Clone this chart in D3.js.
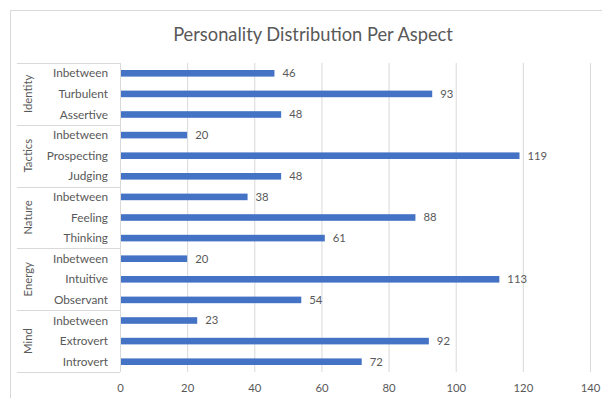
<!DOCTYPE html>
<html><head><meta charset="utf-8">
<script src="https://cdn.jsdelivr.net/npm/d3@7"></script>
<style>
html,body{margin:0;padding:0;background:#fff;}
svg{display:block;font-family:Lato,"Open Sans",sans-serif;}
</style></head>
<body><svg id="c" width="602" height="398"></svg>
<script>
// Data (top-to-bottom order as displayed)
const title = "Personality Distribution Per Aspect";
const groups = ["Identity","Tactics","Nature","Energy","Mind"];
const categories = [
  ["Identity","Inbetween"],["Identity","Turbulent"],["Identity","Assertive"],
  ["Tactics","Inbetween"],["Tactics","Prospecting"],["Tactics","Judging"],
  ["Nature","Inbetween"],["Nature","Feeling"],["Nature","Thinking"],
  ["Energy","Inbetween"],["Energy","Intuitive"],["Energy","Observant"],
  ["Mind","Inbetween"],["Mind","Extrovert"],["Mind","Introvert"]
];
const values = [46,93,48, 20,119,48, 38,88,61, 20,113,54, 23,92,72];
const xTicks = [0,20,40,60,80,100,120,140];

(function(){
const svg = d3.select("#c");
const W = 602, H = 398;
const pL = 120, pR = 590, pT = 63, pB = 372;
const txt = "#595959", grid = "#d9d9d9";

// outer chart border
svg.append("rect").attr("x",10.5).attr("y",10.5).attr("width",W).attr("height",H)
  .attr("fill","none").attr("stroke",grid);

// title
svg.append("text").attr("x",313).attr("y",41).attr("text-anchor","middle")
  .attr("fill",txt).attr("font-size",18.3).text(title);

const x = d3.scaleLinear().domain([0,140]).range([pL,pR]);
const keys = categories.map((d,i)=>i);
const y = d3.scaleBand().domain(keys).range([pT,pB]).paddingInner(0.68).paddingOuter(0.34);
const step = (pB-pT)/categories.length;

// x axis + gridlines
const xa = svg.append("g").attr("transform",`translate(0,${pB})`)
  .call(d3.axisBottom(x).tickValues(xTicks).tickSizeInner(-(pB-pT)).tickSizeOuter(0).tickPadding(12));
xa.select(".domain").remove();
xa.selectAll(".tick line").attr("stroke",grid).attr("stroke-width",1);
xa.selectAll(".tick text").attr("fill",txt).attr("font-size",11.3).attr("font-family","Lato");
xa.selectAll(".tick").filter(d=>d===0).select("line").remove();

// bars
svg.append("g").selectAll("rect").data(values).join("rect")
  .attr("x",x(0)+0.5).attr("y",(d,i)=>y(i))
  .attr("width",d=>x(d)-x(0)-0.5).attr("height",y.bandwidth())
  .attr("fill","#4472C4");

// value labels
svg.append("g").selectAll("text").data(values).join("text")
  .attr("x",d=>x(d)+8).attr("y",(d,i)=>y(i)+y.bandwidth()/2).attr("dy","0.35em")
  .attr("fill",txt).attr("font-size",11.3).text(d=>d);

// category axis line
svg.append("line").attr("x1",pL+0.5).attr("x2",pL+0.5).attr("y1",pT).attr("y2",pB)
  .attr("stroke",grid);

// category labels
svg.append("g").selectAll("text").data(categories).join("text")
  .attr("x",108).attr("y",(d,i)=>y(i)+y.bandwidth()/2).attr("dy","0.35em")
  .attr("text-anchor","end").attr("fill",txt).attr("font-size",11.8).text(d=>d[1]);

// group boundaries and labels
const bounds = d3.range(groups.length+1).map(k=>pT + k*3*step);
svg.append("g").selectAll("line").data(bounds).join("line")
  .attr("x1",17).attr("x2",pL).attr("y1",d=>Math.round(d)+0.5).attr("y2",d=>Math.round(d)+0.5)
  .attr("stroke",grid);
svg.append("g").selectAll("text").data(groups).join("text")
  .attr("transform",(d,k)=>`translate(28,${pT+(k*3+1.5)*step}) rotate(-90)`)
  .attr("text-anchor","middle").attr("dy","0.35em")
  .attr("fill",txt).attr("font-size",11.3).text(d=>d);
})();
</script></body></html>
